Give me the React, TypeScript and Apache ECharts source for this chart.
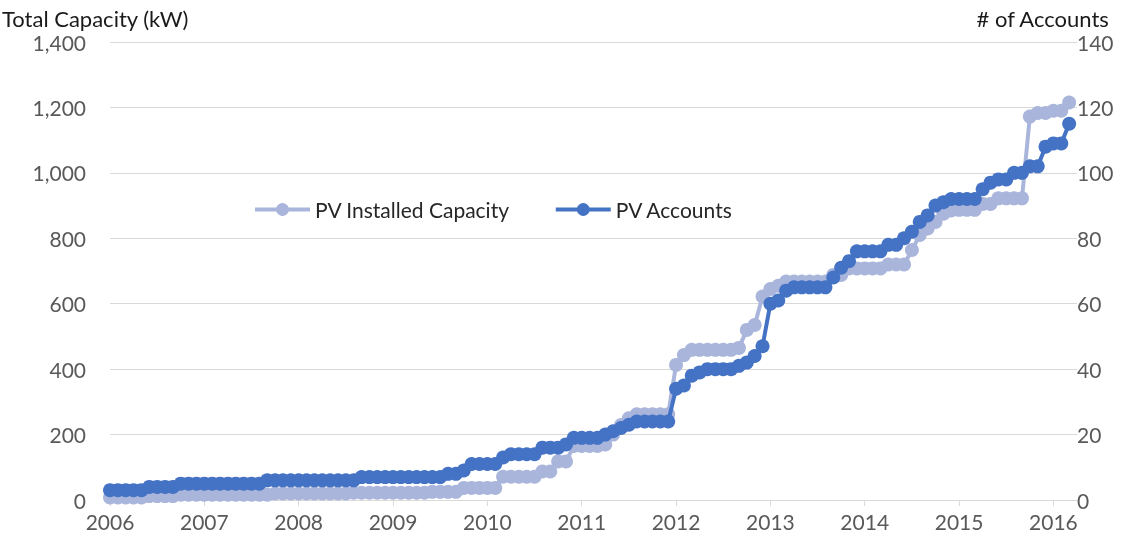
import React, { useEffect, useRef } from "react";
import * as echarts from "echarts";

// Monthly categories: Jan 2006 .. Apr 2016 (last one is the axis end)
const START_YEAR = 2006;
const months: string[] = [];
for (let i = 0; i < 124; i++) {
  const y = START_YEAR + Math.floor(i / 12);
  const m = (i % 12) + 1;
  months.push(`${y}-${m < 10 ? "0" + m : m}`);
}

// PV Installed Capacity (kW), monthly from Jan 2006
const capacity: number[] = [
  8, 8, 8, 8, 8,
  12, 12, 12, 12,
  16, 16, 16, 16, 16, 16, 16, 16, 16, 16, 16, 16,
  20, 20, 20, 20, 20, 20, 20, 20, 20, 20,
  22, 22, 22, 22, 22, 22, 22, 22, 22, 22,
  25, 25, 25, 25,
  37, 37, 37, 37, 37,
  71, 71, 71, 71, 71,
  87, 87,
  118, 118,
  165, 165, 165, 165,
  170, 200, 229, 250,
  262, 262, 262, 262, 262,
  413, 443,
  459, 459, 459, 459, 459, 459,
  465, 520, 535, 622,
  645, 655,
  668, 668, 668, 668, 668, 668,
  688, 688,
  708, 708, 708, 708, 708,
  720, 720, 720,
  764, 810, 830, 850, 875, 885,
  887, 887, 887,
  905, 905,
  922, 922, 922, 922,
  1172, 1183, 1183, 1190, 1190, 1215,
];

// PV Accounts (#), monthly from Jan 2006
const accounts: number[] = [
  3, 3, 3, 3, 3,
  4, 4, 4, 4,
  5, 5, 5, 5, 5, 5, 5, 5, 5, 5, 5,
  6, 6, 6, 6, 6, 6, 6, 6, 6, 6, 6, 6,
  7, 7, 7, 7, 7, 7, 7, 7, 7, 7, 7,
  8, 8, 9,
  11, 11, 11, 11,
  13, 14, 14, 14, 14,
  16, 16, 16, 17,
  19, 19, 19, 19,
  20, 21, 22, 23,
  24, 24, 24, 24, 24,
  34, 35, 38, 39,
  40, 40, 40, 40,
  41, 42, 44, 47,
  60, 61,
  64, 65, 65, 65, 65, 65,
  68, 71, 73,
  76, 76, 76, 76,
  78, 78,
  80, 82, 85, 87, 90, 91, 92,
  92, 92, 92,
  95, 97, 98, 98, 100, 100, 102, 102,
  108, 109, 109, 115,
];

const leftTicks = [0, 200, 400, 600, 800, 1000, 1200, 1400];
const rightTicks = [0, 20, 40, 60, 80, 100, 120, 140];

const FONT = "Lato, 'Open Sans', sans-serif";
const LIGHT = "#A9B5DB";
const DARK = "#4472C4";
const GRID = "#D9D9D9";
const LABEL = "#595959";

export default function App() {
  const ref = useRef<HTMLDivElement>(null);
  useEffect(() => {
    if (!ref.current) return;
    const chart = echarts.init(ref.current, undefined, { renderer: "svg" });
    const yearTick = (idx: number) => idx % 12 === 0;
    chart.setOption({
      animation: false,
      textStyle: { fontFamily: FONT },
      grid: { left: 110, right: 64, top: 42, bottom: 41, containLabel: false },
      legend: {
        left: 248,
        top: 194,
        itemWidth: 55,
        itemHeight: 16,
        itemGap: 44,
        textStyle: { fontSize: 21, color: "#262626", fontFamily: FONT },
        data: [
          { name: "PV Installed Capacity", lineStyle: { width: 4, color: LIGHT } },
          { name: "PV Accounts", lineStyle: { width: 4, color: DARK } },
        ],
      },
      graphic: [
        {
          type: "text",
          left: 2,
          top: 7,
          style: { text: "Total Capacity (kW)", fontSize: 22, fill: "#1a1a1a", fontFamily: FONT },
        },
        {
          type: "text",
          right: 31,
          top: 7,
          style: { text: "# of Accounts", fontSize: 22, fill: "#1a1a1a", fontFamily: FONT },
        },
      ],
      xAxis: {
        type: "category",
        boundaryGap: false,
        data: months,
        axisLine: { lineStyle: { color: GRID, width: 1 } },
        axisTick: { interval: (i: number) => yearTick(i), length: 6, lineStyle: { color: GRID } },
        axisLabel: {
          interval: (i: number) => yearTick(i),
          formatter: (v: string) => v.slice(0, 4),
          color: LABEL,
          fontSize: 21,
          margin: 11,
        },
        splitLine: { show: false },
      },
      yAxis: [
        {
          type: "value",
          min: leftTicks[0],
          max: leftTicks[leftTicks.length - 1],
          interval: leftTicks[1] - leftTicks[0],
          axisLine: { show: false },
          axisTick: { show: false },
          axisLabel: {
            color: LABEL,
            fontSize: 21,
            margin: 24,
            formatter: (v: number) => v.toLocaleString("en-US"),
          },
          splitLine: { lineStyle: { color: GRID, width: 1 } },
        },
        {
          type: "value",
          position: "right",
          min: rightTicks[0],
          max: rightTicks[rightTicks.length - 1],
          interval: rightTicks[1] - rightTicks[0],
          axisLine: { show: false },
          axisTick: { show: false },
          axisLabel: { color: LABEL, fontSize: 21, margin: 0 },
          splitLine: { show: false },
        },
      ],
      series: [
        {
          name: "PV Installed Capacity",
          type: "line",
          yAxisIndex: 0,
          data: capacity,
          symbol: "circle",
          symbolSize: 14,
          showAllSymbol: true,
          lineStyle: { color: LIGHT, width: 4 },
          itemStyle: { color: LIGHT },
          z: 2,
        },
        {
          name: "PV Accounts",
          type: "line",
          yAxisIndex: 1,
          data: accounts,
          symbol: "circle",
          symbolSize: 14,
          showAllSymbol: true,
          lineStyle: { color: DARK, width: 4 },
          itemStyle: { color: DARK },
          z: 3,
        },
      ],
    });
    return () => chart.dispose();
  }, []);
  return (
    <div
      ref={ref}
      style={{ position: "fixed", left: 0, top: 0, width: 1141, height: 541 }}
    />
  );
}
